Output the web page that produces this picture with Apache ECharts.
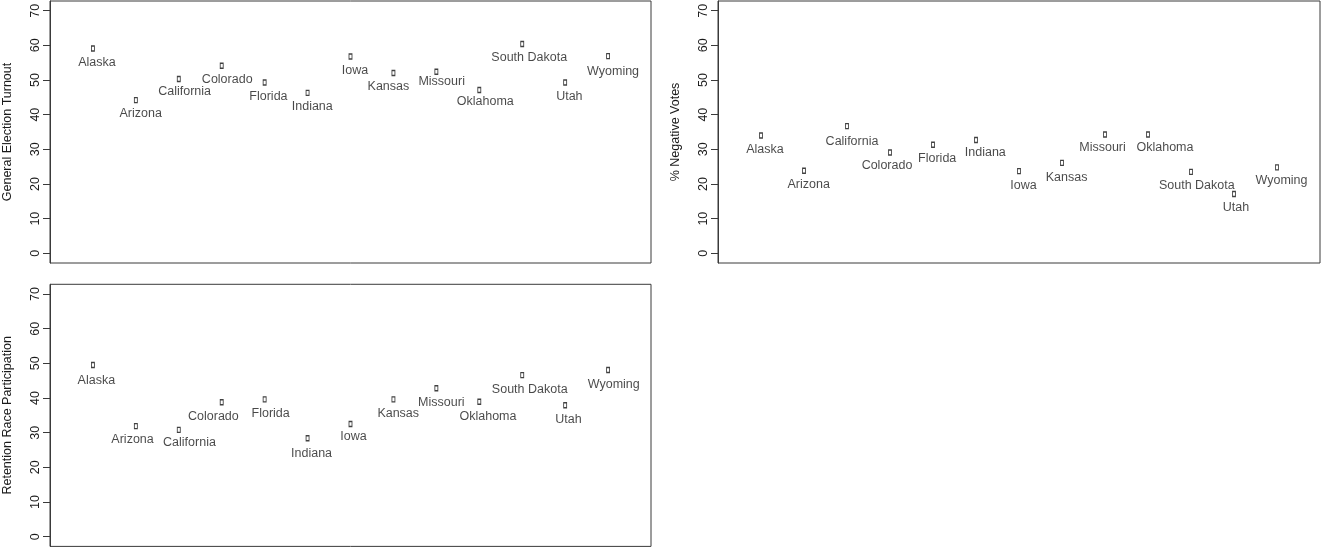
<!DOCTYPE html>
<html>
<head>
<meta charset="utf-8">
<script src="https://cdn.jsdelivr.net/npm/echarts@6/dist/echarts.min.js"></script>
<style>
html,body{margin:0;padding:0;background:#fff;}
#chart{width:1321px;height:548px;}
</style>
</head>
<body>
<div id="chart"></div>
<script>
const states = ["Alaska","Arizona","California","Colorado","Florida","Indiana","Iowa","Kansas","Missouri","Oklahoma","South Dakota","Utah","Wyoming"];
const turnout = [59.1,44.2,50.3,54.1,49.3,46.3,56.8,52.0,52.4,47.1,60.4,49.3,56.9];
const negativeVotes = [34.0,23.8,36.7,29.1,31.3,32.7,23.7,26.1,34.3,34.3,23.5,17.1,24.8];
const retention = [49.5,31.9,30.8,38.8,39.6,28.4,32.5,39.6,42.8,38.9,46.6,37.9,48.1];
const yTicks = [0,10,20,30,40,50,60,70];
const titles = ["General Election Turnout","% Negative Votes","Retention Race Participation"];

// label placement nudges (px, label centre relative to the marker) – layout only
const nudges = [
  [[4,14],[4.8,13],[5.8,13],[5.5,14],[3.8,14],[4.7,14],[4.5,14],[-5,13],[5.3,10],[6,11.5],[7,14],[4.2,14],[5,15]],
  [[4,14.5],[4.7,14],[5,15],[-3,13],[4.2,13.5],[9.3,12.5],[4.5,14],[4.6,14.3],[-2.5,13],[17,13],[5.8,13.5],[2,14],[4.5,13]],
  [[3.4,15.5],[-3.3,13],[10.7,13],[-8.3,14],[6,14.4],[4,15.5],[3,13],[4.8,14.5],[5,14.7],[8.7,14.5],[7.5,14.8],[3.4,14],[5.7,15]]
];

const chart = echarts.init(document.getElementById('chart'), null, {renderer:'canvas'});
const FONT = '"Liberation Sans", Arial, Helvetica, sans-serif';
const TXT = '#1a1a1a';
const FS = 12.5;

const grids = [
  {left:49, top:1, width:602, height:262},
  {left:718, top:1, width:602, height:262},
  {left:49, top:284.3, width:602, height:262.1}
];
const seriesData = [turnout, negativeVotes, retention];

const option = {
  animation:false,
  backgroundColor:'#fff',
  grid: grids.map(g => Object.assign({show:true, borderColor:'#3a3a3a', borderWidth:1, backgroundColor:'transparent'}, g)),
  xAxis: grids.map((g,i) => ({type:'value', gridIndex:i, min:0, max:14, show:false})),
  yAxis: grids.map((g,i) => ({
    type:'value', gridIndex:i, min:-2.8, max:72.8,
    name:titles[i], nameLocation:'middle', nameGap:36,
    nameTextStyle:{fontFamily:FONT, fontSize:FS, color:TXT},
    axisLine:{show:true, lineStyle:{color:'#3a3a3a', width:1}},
    axisTick:{show:true, length:7, customValues:yTicks, lineStyle:{color:'#3a3a3a', width:1}},
    axisLabel:{show:true, rotate:90, margin:8, customValues:yTicks, fontFamily:FONT, fontSize:FS, color:TXT},
    splitLine:{show:false}
  })),
  series: seriesData.map((vals,i) => ({
    type:'scatter', xAxisIndex:i, yAxisIndex:i,
    symbol:'rect', symbolSize:[3,5],
    itemStyle:{color:'#fff', borderColor:'#111', borderWidth:1.1},
    label:{show:true, position:'inside', align:'center', verticalAlign:'middle',
      formatter:p=>p.name,
      fontFamily:FONT, fontSize:FS, color:TXT},
    labelLayout: function(params){
      const n = nudges[i][params.dataIndex];
      return {dx:n[0], dy:n[1], hideOverlap:false};
    },
    data: vals.map((v,k)=>({name: states[k], value:[k+1, v]}))
  }))
};
chart.setOption(option);
</script>
</body>
</html>
